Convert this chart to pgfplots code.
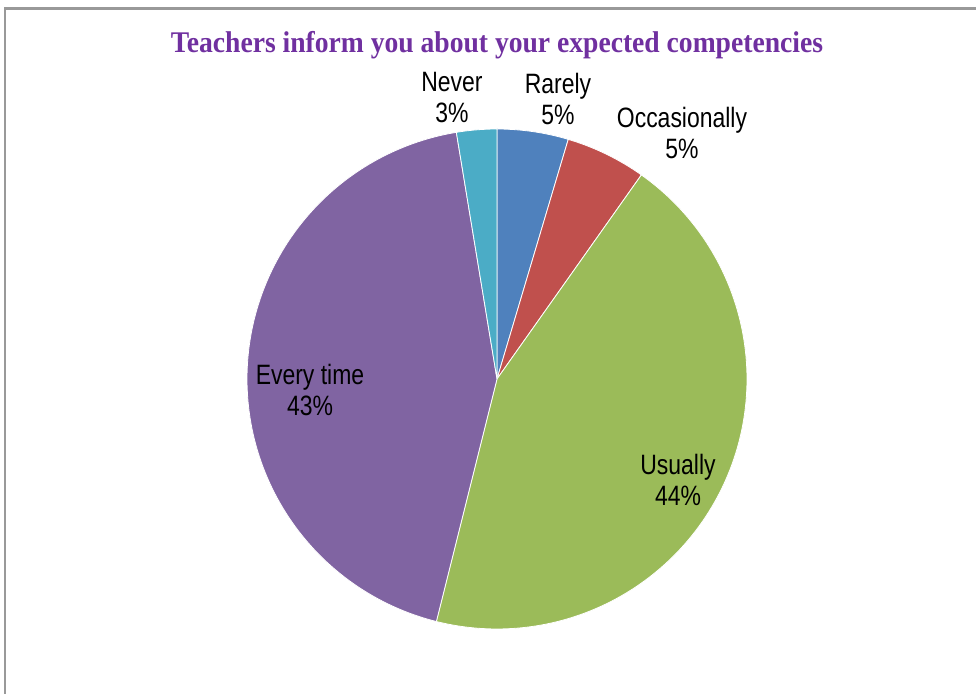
\documentclass[border=0pt]{standalone}
\usepackage{pgfplots}
\pgfplotsset{compat=1.18}
\usepackage{fontspec}
\setmainfont{Liberation Sans}
\newfontfamily\labfont[FakeStretch=0.82]{Liberation Sans}
\newfontfamily\titfont[FakeStretch=0.92]{Liberation Serif}
\definecolor{cBlue}{HTML}{4F81BD}
\definecolor{cRed}{HTML}{C0504D}
\definecolor{cGreen}{HTML}{9BBB59}
\definecolor{cPurple}{HTML}{8064A2}
\definecolor{cCyan}{HTML}{4BACC6}
\definecolor{cTitle}{HTML}{7030A0}
\tikzset{lab/.style={font=\labfont\fontsize{14}{15.5}\selectfont, align=center, inner sep=0pt}}
\begin{document}
\begin{tikzpicture}
\useasboundingbox (0,0) rectangle (488pt,-347pt);
\fill[white] (0,0) rectangle (488pt,-347pt);
\draw[color=black!40, line width=1.2pt] (2.5pt,-348pt) -- (2.5pt,-4.3pt) -- (489pt,-4.3pt);
\node[font=\titfont\bfseries\fontsize{15}{17}\selectfont, text=cTitle] at (248.5pt,-22.5pt) {Teachers inform you about your expected competencies};
\begin{axis}[
  x=125pt, y=125pt,
  xmin=-1.1, xmax=1.1, ymin=-1.1, ymax=1.1,
  hide axis, clip=false,
  anchor=origin, at={(248.5pt,-189.5pt)},
]
% slices in percent, clockwise from 12 o'clock
% Rarely 4.6, Occasionally 5.2, Usually 44.1, Every time 43.5, Never 2.6
\addplot[fill=cBlue, draw=white, line width=0.4pt, domain=0:4.6, samples=20, variable=\t] ({sin(3.6*t)},{cos(3.6*t)}) -- (axis cs:0,0) -- cycle;
\addplot[fill=cRed, draw=white, line width=0.4pt, domain=4.6:9.8, samples=20, variable=\t] ({sin(3.6*t)},{cos(3.6*t)}) -- (axis cs:0,0) -- cycle;
\addplot[fill=cGreen, draw=white, line width=0.4pt, domain=9.8:53.9, samples=120, variable=\t] ({sin(3.6*t)},{cos(3.6*t)}) -- (axis cs:0,0) -- cycle;
\addplot[fill=cPurple, draw=white, line width=0.4pt, domain=53.9:97.4, samples=120, variable=\t] ({sin(3.6*t)},{cos(3.6*t)}) -- (axis cs:0,0) -- cycle;
\addplot[fill=cCyan, draw=white, line width=0.4pt, domain=97.4:100, samples=12, variable=\t] ({sin(3.6*t)},{cos(3.6*t)}) -- (axis cs:0,0) -- cycle;
\node[lab] at (axis cs:-0.18,1.126) {Never\\3\%};
\node[lab] at (axis cs:0.244,1.12) {Rarely\\5\%};
\node[lab] at (axis cs:0.74,0.984) {Occasionally\\5\%};
\node[lab] at (axis cs:0.724,-0.402) {Usually\\44\%};
\node[lab] at (axis cs:-0.748,-0.044) {Every time\\43\%};
\end{axis}
\end{tikzpicture}
\end{document}
